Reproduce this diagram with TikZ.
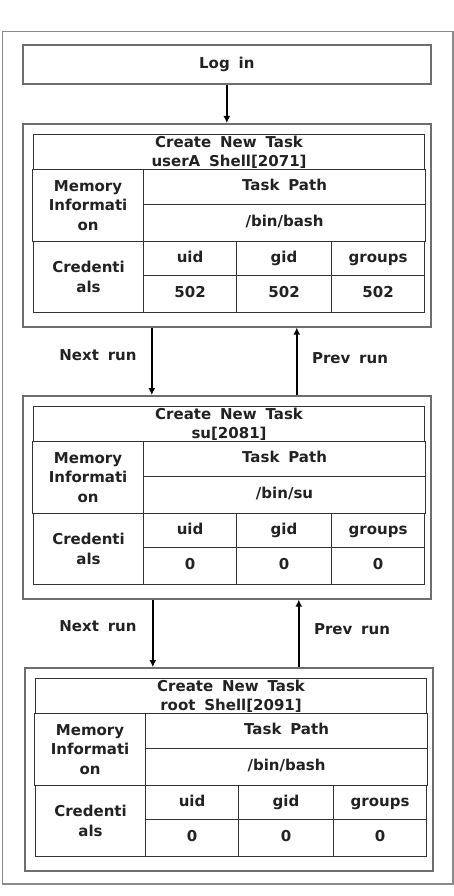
\documentclass[tikz,border=0pt]{standalone}
\usepackage{fontspec}
\setmainfont{DejaVu Sans}[WordSpace=1.7]
\usetikzlibrary{arrows.meta}
\definecolor{framegray}{HTML}{8A8A8A}
\definecolor{boxgray}{HTML}{6E6E6E}
\definecolor{cellline}{HTML}{333333}
\definecolor{txt}{HTML}{222222}
\tikzset{
  frame/.style={draw=framegray, line width=1.5pt},
  blockbox/.style={draw=boxgray, line width=1.6pt, fill=white},
  cell/.style={draw=cellline, line width=1.1pt, anchor=north west, inner sep=0pt,
    align=center, text=txt, font=\fontsize{15}{19.5}\selectfont\bfseries},
  oneline/.style={text height=11pt, text depth=3.5pt},
  lbl/.style={text=txt, font=\fontsize{15}{19.5}\selectfont\bfseries, inner sep=0pt},
  arr/.style={draw=black, line width=1.5pt, -{Latex[length=7pt,width=7pt]}},
}
\newcommand{\TaskBlock}[5]{% #1 prefix, #2 title line 2, #3 path, #4 value, #5 shift
\begin{scope}[shift={#5}]
  \node[blockbox, anchor=north west, minimum width=408pt, minimum height=203pt, inner sep=0pt] (#1box) at (22,-123) {};
  \node[cell, minimum width=391pt, minimum height=35pt] (#1title) at (33,-134) {Create New Task\\#2};
  \node[cell, minimum width=111pt, minimum height=72pt] (#1mem) at (32,-169) {Memory\\Informati\\on};
  \node[cell, oneline, minimum width=282pt, minimum height=35pt] (#1pathh) at (143,-169) {Task Path};
  \node[cell, oneline, minimum width=282pt, minimum height=37pt] (#1pathv) at (143,-204) {#3};
  \node[cell, minimum width=110pt, minimum height=71pt] (#1cred) at (33,-241) {Credenti\\als};
  \node[cell, oneline, minimum width=93pt, minimum height=34pt] (#1uid) at (143,-241) {uid};
  \node[cell, oneline, minimum width=95pt, minimum height=34pt] (#1gid) at (236,-241) {gid};
  \node[cell, oneline, minimum width=93pt, minimum height=34pt] (#1grp) at (331,-241) {groups};
  \node[cell, oneline, minimum width=93pt, minimum height=37pt] (#1uidv) at (143,-275) {#4};
  \node[cell, oneline, minimum width=95pt, minimum height=37pt] (#1gidv) at (236,-275) {#4};
  \node[cell, oneline, minimum width=93pt, minimum height=37pt] (#1grpv) at (331,-275) {#4};
\end{scope}}
\begin{document}
\begin{tikzpicture}[x=1pt,y=1pt]
\useasboundingbox (0,0) rectangle (453,-896);
\node[frame, anchor=north west, minimum width=450.5pt, minimum height=852pt, inner sep=0pt] (outer) at (1.5,-31) {};
\node[cell, oneline, draw=boxgray, line width=1.6pt, minimum width=408pt, minimum height=39pt] (login) at (22,-44) {Log in};
\TaskBlock{a}{userA Shell[2071]}{/bin/bash}{502}{(0,0)}
\TaskBlock{b}{su[2081]}{/bin/su}{0}{(0,-272)}
\TaskBlock{c}{root Shell[2091]}{/bin/bash}{0}{(2,-544)}
\draw[arr] (login.south) -- (login.south |- abox.north);
\draw[arr] ([xshift=-75pt]abox.south) -- ([xshift=-75pt]abox.south |- bbox.north);
\draw[arr] ([xshift=70pt]bbox.north) -- ([xshift=70pt]bbox.north |- abox.south);
\draw[arr] ([xshift=-74pt]bbox.south) -- ([xshift=-74pt]bbox.south |- cbox.north);
\draw[arr] ([xshift=70pt]cbox.north) -- ([xshift=70pt]cbox.north |- bbox.south);
\node[lbl] (next1) at (98,-355) {Next run};
\node[lbl] (prev1) at (350,-358) {Prev run};
\node[lbl] (next2) at (98,-626) {Next run};
\node[lbl] (prev2) at (352,-629) {Prev run};
\end{tikzpicture}
\end{document}
